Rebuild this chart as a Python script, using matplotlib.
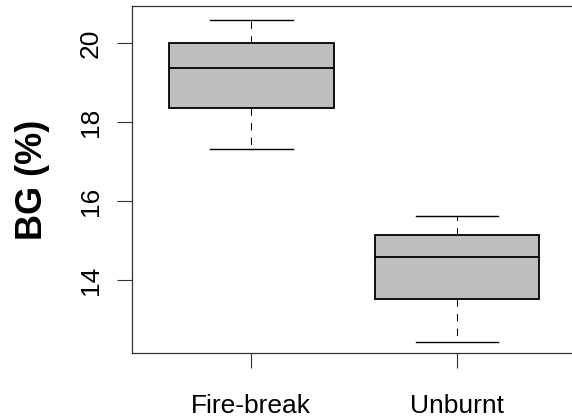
import matplotlib
matplotlib.use("Agg")
import matplotlib.pyplot as plt

plt.rcParams['font.family'] = ['Liberation Sans', 'DejaVu Sans']

groups = ["Fire-break", "Unburnt"]
whisker_low = [17.32, 12.44]
q1 = [18.35, 13.51]
median = [19.37, 14.57]
q3 = [20.0, 15.13]
whisker_high = [20.58, 15.62]
y_ticks = [14, 16, 18, 20]


def main():
    stats = []
    for i, name in enumerate(groups):
        stats.append({
            "label": name,
            "whislo": whisker_low[i],
            "q1": q1[i],
            "med": median[i],
            "q3": q3[i],
            "whishi": whisker_high[i],
            "fliers": [],
        })

    fig = plt.figure(figsize=(5.72, 4.17), dpi=100)
    ax = fig.add_axes([132 / 572, 1 - 353 / 417, (576.5 - 132) / 572, (353 - 6) / 417])

    ax.bxp(stats, positions=[1, 2], widths=0.8, patch_artist=True,
           showfliers=False,
           boxprops=dict(facecolor="#bebebe", edgecolor="black", linewidth=1.3),
           medianprops=dict(color="black", linewidth=1.3),
           whiskerprops=dict(color="black", linewidth=0.75, linestyle=(0, (7, 7))),
           capprops=dict(color="black", linewidth=1.0),
           capwidths=0.4)

    ax.set_xlim(0.42, 2.58)
    ax.set_ylim(12.15, 20.94)
    ax.set_yticks(y_ticks)
    ax.set_yticklabels([str(t) for t in y_ticks], rotation=90, va="center")
    ax.set_xticks([1, 2])
    ax.set_xticklabels(groups)
    ax.tick_params(axis="both", length=10.8, width=0.8, labelsize=19, color="#333333")
    ax.tick_params(axis="y", pad=10)
    ax.tick_params(axis="x", pad=18.5)
    for s in ax.spines.values():
        s.set_linewidth(0.9)
        s.set_color("#333333")

    ax.set_ylabel("BG (%)", fontsize=26, fontweight="bold", labelpad=21)

    fig.savefig("out.png", dpi=100)
    plt.close(fig)


if __name__ == "__main__":
    main()
